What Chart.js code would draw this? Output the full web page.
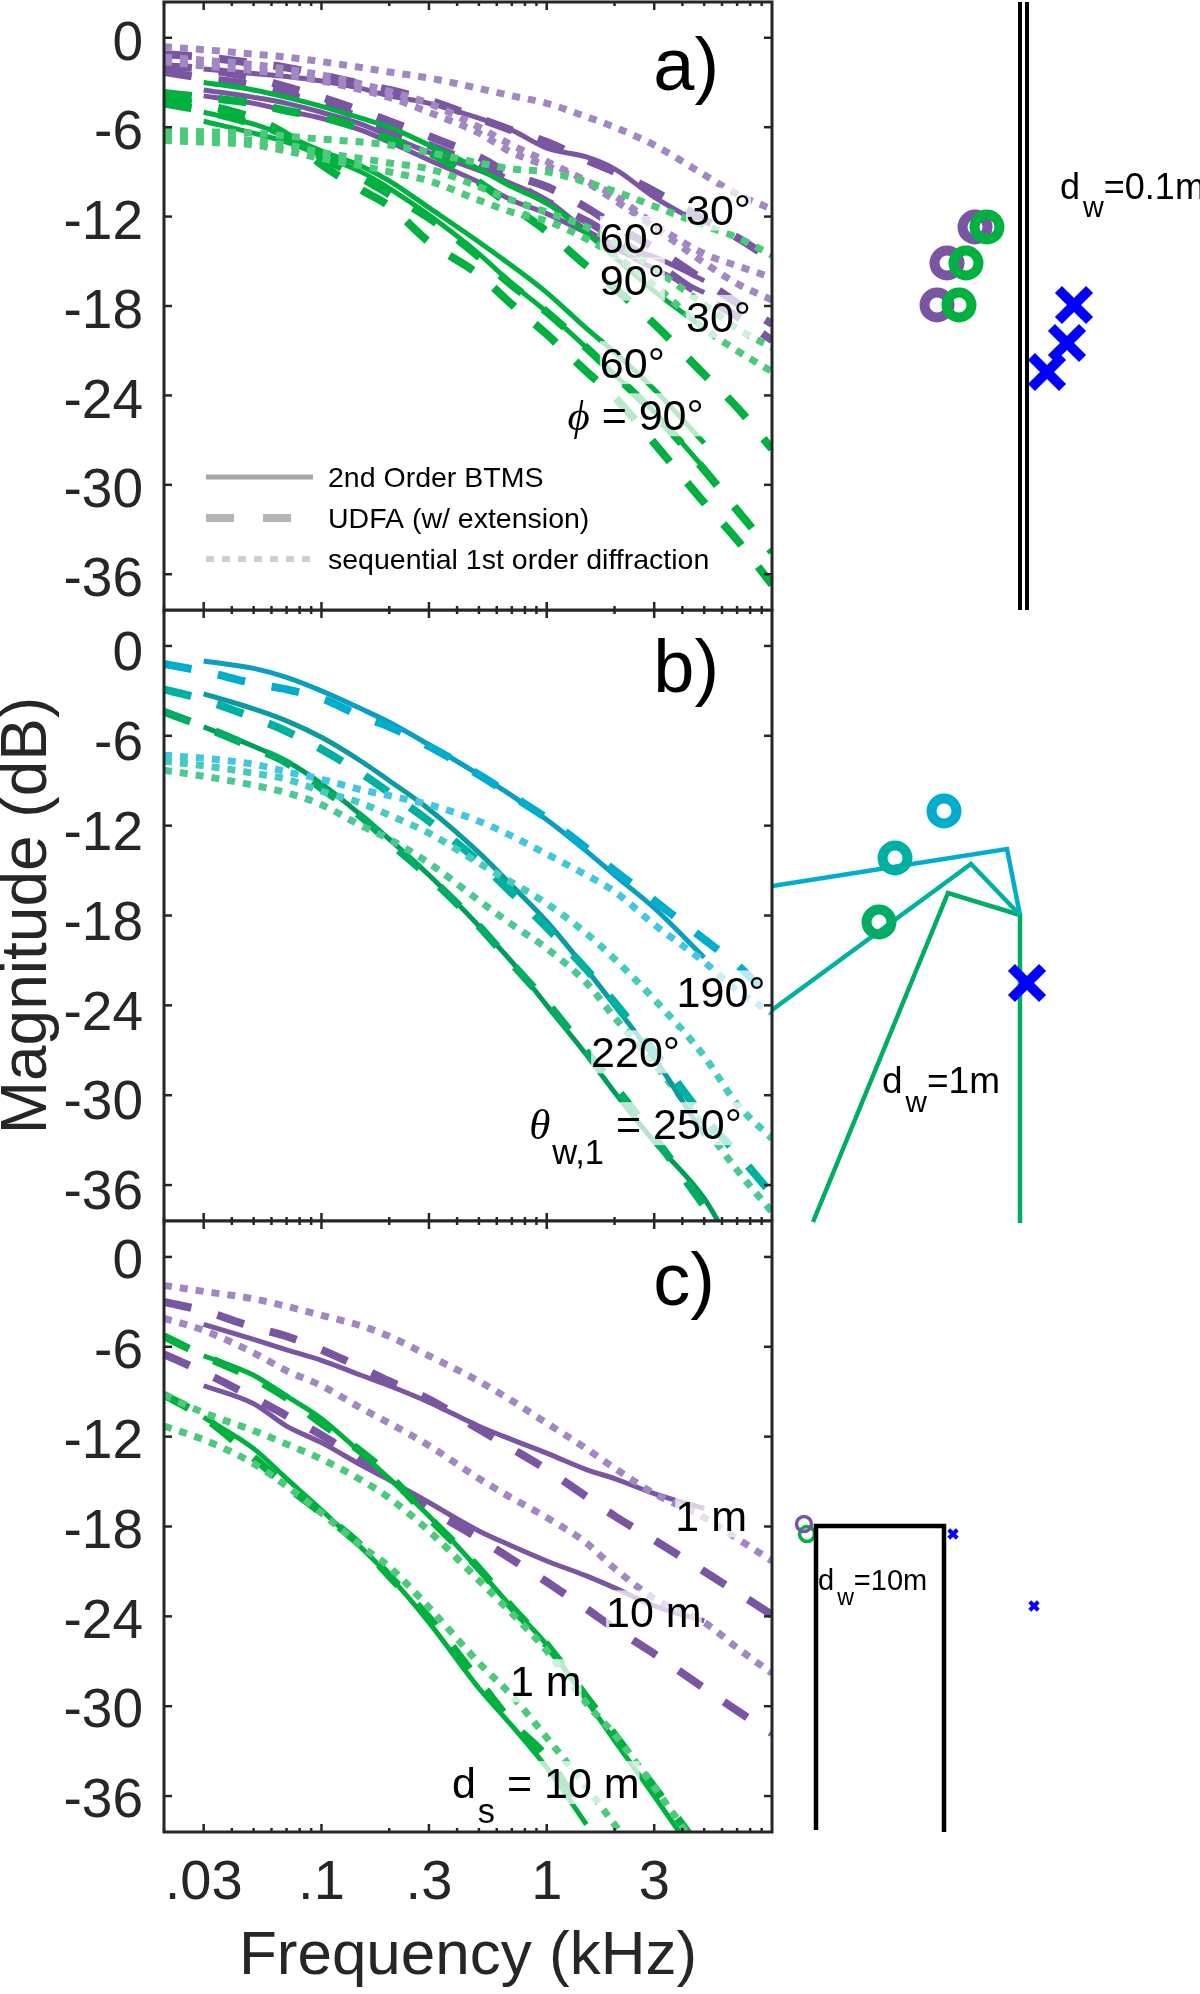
<!DOCTYPE html>
<html>
<head>
<meta charset="utf-8">
<title>Magnitude vs frequency</title>
<script src="https://cdn.jsdelivr.net/npm/chart.js@4"></script>
<style>
  html, body { margin: 0; padding: 0; background: #fff; }
  #wrap { position: relative; width: 1200px; height: 1994px; overflow: hidden; }
  canvas { position: absolute; }
</style>
</head>
<body>
<div id="wrap">
  <canvas id="sketch" width="428" height="1994" style="left:772px;top:0"></canvas>
  <canvas id="panelA" width="775" height="612" style="left:0;top:0"></canvas>
  <canvas id="panelB" width="775" height="612" style="left:0;top:609px"></canvas>
  <canvas id="panelC" width="775" height="775" style="left:0;top:1219px"></canvas>
</div>
<script>
// frequency grid (kHz) shared by all curves
const freqs = [.02, .03, .05, .07, .1, .15, .2, .3, .5, .7, 1, 1.5, 2, 3, 5, 7, 10];
const xMajor = [.03, .1, .3, 1, 3];
const xMinor = [.02, .04, .05, .06, .07, .08, .09, .2, .4, .5, .6, .7, .8, .9, 2, 4, 5, 6, 7, 8, 9];
const yTicks = [0, -6, -12, -18, -24, -30, -36];

// panel a
const aGreenDot30 = [-6.2,-6.3,-6.4,-6.6,-6.8,-7,-7.2,-7.7,-8.4,-8.8,-9,-9.7,-10.3,-11.3,-12.6,-13.4,-14.6];
const aGreenDot60 = [-6.6,-6.7,-6.9,-7.2,-7.7,-8.1,-8.4,-8.8,-10,-10.9,-11.7,-12.7,-13.7,-15.5,-17.9,-19.5,-20.8];
const aGreenDot90 = [-6.9,-7,-7.2,-7.6,-8.1,-8.6,-9,-9.6,-10.9,-11.7,-12.3,-13.5,-14.6,-16.6,-19.5,-21,-22.4];
const aGreenDash30 = [-3.7,-4,-4.4,-4.9,-5.3,-6.1,-6.8,-7.7,-9.7,-11.3,-13,-15.3,-16.8,-19.2,-22.6,-24.8,-27.6];
const aGreenDash60 = [-4.1,-4.5,-5.4,-6.5,-8,-9.4,-10.5,-12.1,-14.7,-16.6,-18.4,-20.8,-22.6,-25.2,-29,-31.7,-34.5];
const aGreenDash90 = [-4.4,-4.9,-5.8,-6.6,-8.5,-10.2,-11.3,-13.7,-15.9,-17.9,-19.9,-22.4,-24.1,-27.2,-31.2,-33.7,-36.7];
const aGreenLine30 = [-3,-3.5,-4,-4.6,-5.4,-6,-7.2,-8.8,-10,-11.1,-13.1,-14.7,-17,-19.5];
const aGreenLine60 = [-5,-5.8,-6.6,-7.6,-8.6,-9.6,-11.4,-13.7,-15.3,-17.1,-19.5,-21.1,-23.6,-27.2];
const aGreenLine90 = [-5.6,-6.4,-7,-7.9,-9,-10.1,-11.9,-14.5,-16.5,-18.4,-20.8,-22.6,-25.1,-28.9];
const aPurpleDot30 = [-.6,-.8,-1.1,-1.3,-1.6,-2,-2.3,-2.7,-3.4,-3.9,-4.4,-5.3,-6,-7.2,-9.2,-10.5,-11.5];
const aPurpleDot60 = [-1.3,-1.5,-1.8,-2.1,-2.5,-3.1,-3.6,-4.4,-6,-7.2,-8.3,-9.6,-10.6,-12.5,-14.5,-15.3,-16.1];
const aPurpleDot90 = [-1.6,-1.9,-2.2,-2.5,-2.9,-3.5,-4,-5,-6.4,-7.7,-8.6,-9.7,-10.9,-12.7,-15.1,-16.5,-17.6];
const aPurpleDash30 = [-1.1,-1.3,-1.7,-2,-2.5,-3.1,-3.5,-4.2,-5.4,-6.2,-7,-8.2,-9,-10.3,-12.2,-13.4,-14.9];
const aPurpleDash60 = [-1.9,-2.1,-2.7,-3.3,-4,-4.9,-5.6,-6.6,-8,-9.2,-10,-11.4,-12.6,-14.1,-16.3,-17.8,-19.2];
const aPurpleDash90 = [-2.3,-2.7,-3.2,-3.8,-4.4,-5.4,-6.2,-7.2,-8.6,-9.7,-11,-12.3,-13.4,-15.1,-17.4,-18.7,-20.3];
const aPurpleLine30 = [-2.1,-2.4,-2.6,-2.9,-3.4,-3.9,-4.4,-5.4,-6.2,-7.4,-8,-8.8,-10.7,-12.6];
const aPurpleLine60 = [-3.5,-4,-4.4,-5,-5.8,-6.6,-7.7,-8.9,-9.8,-10.9,-12.9,-13.9,-14.7,-16.3];
const aPurpleLine90 = [-3.9,-4.4,-4.9,-5.4,-6.2,-7,-8.2,-9.7,-10.9,-11.8,-13.1,-14.1,-15.5,-17.1];

// panel b
const bCyanDot = [-7.3,-7.5,-7.9,-8.4,-8.9,-9.6,-10,-10.6,-11.7,-12.7,-13.9,-15.3,-16.4,-18.6,-21.1,-23,-24.5];
const bCyanDash = [-1.2,-1.7,-2.5,-2.9,-3.5,-4.7,-5.4,-6.7,-8.6,-10,-11.5,-13.5,-15,-17,-19.6,-21.3,-23.6];
const bCyanLine = [-1,-1.5,-2.1,-3,-4.2,-5.1,-6.6,-8.6,-10,-11.6,-13.7,-15.3,-17.5,-20.8];
const bTealDot = [-7.7,-8,-8.5,-8.9,-9.7,-10.5,-11.3,-12.5,-14.5,-15.8,-17.2,-19.2,-20.9,-23.6,-27.4,-30.6,-32.9];
const bTealDash = [-2.9,-3.6,-4.8,-5.7,-6.9,-8.5,-9.8,-11.7,-14.4,-16.5,-18.8,-21.6,-23.8,-27.1,-31.5,-33.9,-36.6];
const bTealLine = [-3.2,-4.2,-5,-6.1,-7.7,-9,-10.9,-13.8,-16,-18.4,-21.6,-24,-27.5,-32.7];
const bGreenDot = [-8.3,-8.7,-9.3,-9.8,-10.6,-12,-12.9,-14.5,-17,-18.6,-20.2,-22.5,-24.8,-27.9,-32.1,-35,-37.8];
const bGreenDash = [-4.4,-5.4,-6.8,-7.8,-9.5,-11.4,-13.1,-15.4,-18.7,-21.2,-23.8,-27.1,-29.4,-32.8,-37.4];
const bGreenLine = [-5.4,-6.7,-7.7,-9.2,-11.3,-12.9,-15.3,-18.7,-21.1,-24,-27.3,-29.8,-33.1,-36.9,-40.7];

// panel c
const cGreenDot1 = [-9.2,-10.4,-11.6,-12.5,-13.5,-14.9,-16.1,-18.3,-21.6,-23.8,-26.3,-29.8,-31.9,-35.4,-40.1];
const cGreenDot10 = [-11.3,-12.2,-13.8,-15.3,-17.1,-19.3,-20.7,-23.4,-27.1,-29.3,-32.1,-35.4,-37.9,-41.4];
const cGreenDash1 = [-5.3,-6.6,-8.1,-9.4,-11.1,-13,-14.6,-17.4,-20.8,-23.4,-25.9,-29.4,-31.9,-35.4,-39.9];
const cGreenDash10 = [-9.2,-10.7,-13.4,-15.3,-17.1,-19.3,-21.3,-24.1,-28.3,-31.1,-33.4,-37.6];
const cGreenLine1 = [-6.6,-7.9,-9.3,-10.8,-13.1,-14.8,-17.3,-20.9,-23.4,-25.9,-29.6,-32.3,-36,-40.8];
const cGreenLine10 = [-10.7,-12.8,-14.8,-16.9,-19.4,-21.3,-24.4,-28.8,-31.3,-34.1,-37.9];
const cPurpleDot1 = [-1.9,-2.3,-2.8,-3.3,-3.9,-4.6,-5.3,-6.6,-8.3,-9.6,-11.1,-12.8,-14.1,-15.8,-17.4,-18.8,-20.3];
const cPurpleDot10 = [-4.1,-4.9,-6.4,-7.6,-8.6,-10.1,-11.1,-12.6,-14.8,-16.1,-17.4,-19.1,-20.8,-22.8,-24.4,-26.1,-27.8];
const cPurpleDash1 = [-3,-3.6,-4.7,-5.3,-6.2,-7.4,-8.3,-9.5,-11.5,-12.8,-14.2,-16,-17.3,-18.9,-21,-22.4,-23.9];
const cPurpleDash10 = [-6.5,-7.7,-9.4,-10.6,-11.9,-13.6,-14.9,-16.8,-18.8,-20.2,-21.7,-23.5,-24.8,-26.5,-28.8,-30.3,-31.8];
const cPurpleLine1 = [-4.5,-5.5,-6.2,-6.9,-7.9,-8.6,-9.7,-11.3,-12.2,-13.1,-14.2,-14.8,-15.8,-16.8];
const cPurpleLine10 = [-8.6,-9.8,-11.3,-12.4,-13.9,-14.9,-16.4,-18.3,-19.3,-20.3,-21.3,-22.1,-23.3,-24.3];

const wallA1 = [[1020,2],[1020,610]];
const wallA2 = [[1027,2],[1027,610]];
const recvGreenA = [[987,227],[966,263],[959,305]];
const recvPurpleA = [[975,227],[947,263],[937,305]];
const srcA = [[1074,305],[1067,343],[1047,372]];
const wedgeCyan = [[772,886],[1007,849],[1020,915]];
const wedgeTeal = [[772,1010],[971,864],[1020,915]];
const wedgeGreen = [[813,1222],[948,893],[1020,915],[1020,1223]];
const recvB = [[944,811],[895,858],[879,922]];
const srcB = [[1027,983]];
const wallC = [[816,1830],[816,1526],[944,1526],[944,1832]];
const recvPurpleC = [[804,1524]];
const recvGreenC = [[807,1534]];
const srcC = [[953,1534],[1034,1606]];

const PURPLE = '#7a56a2', GREEN = '#00b140', CYAN = '#00aecb', TEAL = '#00b0a0', GREEN2 = '#00ad62';
const PURPLE_L = '#a288c2', GREEN_L = '#4cc97a', CYAN_L = '#45c6e0', TEAL_L = '#45ccbe', GREEN2_L = '#4cc895';
const INK = '#262626';
const SANS = '"Liberation Sans", Arial, sans-serif';
const SERIF = '"Liberation Serif", serif';

function curve(vals, color, kind, start) {
  const styles = {
    line: { borderWidth: 5, borderDash: [] },
    dash: { borderWidth: 8, borderDash: [28, 27] },
    dot: { borderWidth: 7, borderDash: [8, 8] },
  };
  return {
    data: vals.map((y, i) => ({ x: freqs[i + start], y })),
    borderColor: color,
    borderWidth: styles[kind].borderWidth,
    borderDash: styles[kind].borderDash,
    showLine: true,
    pointRadius: 0,
    cubicInterpolationMode: 'monotone',
  };
}
const dot = (v, c) => curve(v, c, 'dot', 0);
const dash = (v, c) => curve(v, c, 'dash', 0);
const line = (v, c) => curve(v, c, 'line', 1);

// text with optional subscript runs, anchored on its centre
function drawRuns(ctx, runs, size, cx, cy, fade) {
  let total = 0;
  const parts = runs.map((r) => {
    const s = r.sub ? size * 0.8 : size;
    const font = (r.font || '') + ' ' + s + 'px ' + (r.family || SANS);
    ctx.font = font;
    const w = ctx.measureText(r.t).width + (r.gap || 0);
    total += w;
    return { ...r, font, w };
  });
  if (fade) {
    ctx.fillStyle = 'rgba(255,255,255,0.72)';
    ctx.fillRect(cx - total / 2, cy - size * 0.5, total, size);
  }
  ctx.fillStyle = '#000';
  ctx.textBaseline = 'alphabetic';
  ctx.textAlign = 'left';
  let x = cx - total / 2;
  parts.forEach((p) => {
    ctx.font = p.font;
    ctx.fillText(p.t, x + (p.gap || 0), cy + size * 0.36 + (p.sub ? size * 0.58 : 0));
    x += p.w;
  });
}

// ticks point inwards on all four sides, so they are drawn here instead of by the grid
const framePlugin = {
  id: 'frame',
  afterDatasetsDraw(chart) {
    const { ctx, chartArea: a, scales } = chart;
    ctx.save();
    ctx.strokeStyle = INK;
    ctx.lineWidth = 2.5;
    const seg = (x1, y1, x2, y2) => {
      ctx.beginPath();
      ctx.moveTo(x1, y1);
      ctx.lineTo(x2, y2);
      ctx.stroke();
    };
    xMajor.forEach((f) => {
      const x = scales.x.getPixelForValue(f);
      seg(x, a.top, x, a.top + 8);
      seg(x, a.bottom, x, a.bottom - 8);
    });
    xMinor.forEach((f) => {
      const x = scales.x.getPixelForValue(f);
      seg(x, a.top, x, a.top + 4);
      seg(x, a.bottom, x, a.bottom - 4);
    });
    yTicks.forEach((v) => {
      const y = scales.y.getPixelForValue(v);
      seg(a.left, y, a.left + 8, y);
      seg(a.right, y, a.right - 8, y);
    });
    ctx.lineWidth = 3;
    ctx.strokeRect(a.left, a.top, a.right - a.left, a.bottom - a.top);
    ctx.restore();
  },
};

function notesPlugin(notes, extra) {
  return {
    id: 'notes',
    afterDatasetsDraw(chart) {
      const { ctx, scales } = chart;
      ctx.save();
      notes.forEach((n) => {
        drawRuns(ctx, n.runs, n.size || 43, scales.x.getPixelForValue(n.f), scales.y.getPixelForValue(n.db), n.fade !== false);
      });
      if (extra) extra(ctx, scales);
      ctx.restore();
    },
  };
}

// labels must not push the plot area in, the panels are stacked edge to edge
const noPadding = (s) => {
  s.paddingTop = 0;
  s.paddingBottom = 0;
  s.paddingLeft = 0;
  s.paddingRight = 0;
};

function panel(id, datasets, notes, opts) {
  const o = opts || {};
  return new Chart(document.getElementById(id), {
    type: 'scatter',
    data: { datasets },
    plugins: [notesPlugin(notes, o.extra), framePlugin],
    options: {
      responsive: false,
      animation: false,
      layout: { autoPadding: false, padding: { top: o.top, right: 3, left: 0, bottom: 0 } },
      plugins: { legend: { display: false }, tooltip: { enabled: false } },
      scales: {
        x: {
          type: 'logarithmic',
          min: .02,
          max: 10,
          grid: { display: false, drawTicks: false },
          border: { display: false },
          title: o.xTitle
            ? { display: true, text: o.xTitle, font: { family: SANS, size: 62 }, color: INK, padding: { top: 0, bottom: 0 } }
            : { display: false },
          ticks: {
            display: !!o.xLabels,
            autoSkip: false,
            maxRotation: 0,
            padding: 18,
            color: INK,
            font: { family: SANS, size: 56 },
            callback: (v) => (xMajor.includes(v) ? String(v).replace(/^0/, '') : ''),
          },
          afterBuildTicks: (s) => { s.ticks = xMajor.map((v) => ({ value: v })); },
          afterFit: (s) => { s.height = o.xHeight; noPadding(s); },
        },
        y: {
          min: -38.4,
          max: 2.4,
          grid: { display: false, drawTicks: false },
          border: { display: false },
          title: o.yTitle
            ? { display: true, text: o.yTitle, font: { family: SANS, size: 64, lineHeight: 0.9 }, color: INK, padding: { top: 0, bottom: 0 } }
            : { display: false },
          ticks: { padding: 21, labelOffset: o.labelShift, color: INK, font: { family: SANS, size: 55 }, callback: (v) => String(v) },
          afterBuildTicks: (s) => { s.ticks = yTicks.map((v) => ({ value: v })); },
          afterFit: (s) => { s.width = 164; noPadding(s); },
        },
      },
    },
  });
}

const deg = (t, f, db) => ({ runs: [{ t }], f, db });
const corner = (t, f, db) => ({ runs: [{ t }], f, db, size: 74, fade: false });

const legendRows = [
  { label: '2nd Order BTMS', dash: [], width: 5, color: '#a6a6a6' },
  { label: 'UDFA (w/ extension)', dash: [28, 29], width: 8, color: '#b5b5b5' },
  { label: 'sequential 1st order diffraction', dash: [8, 8], width: 6, color: '#cfcfcf' },
];

function drawLegend(ctx) {
  legendRows.forEach((r, i) => {
    const y = 477 + i * 41;
    ctx.strokeStyle = r.color;
    ctx.lineWidth = r.width;
    ctx.setLineDash(r.dash);
    ctx.beginPath();
    ctx.moveTo(206, y);
    ctx.lineTo(313, y);
    ctx.stroke();
    ctx.setLineDash([]);
    ctx.fillStyle = '#000';
    ctx.font = '28.5px ' + SANS;
    ctx.textAlign = 'left';
    ctx.textBaseline = 'middle';
    ctx.fillText(r.label, 328, y + 2);
  });
}

panel('panelA', [
  dot(aGreenDot30, GREEN_L), dot(aGreenDot60, GREEN_L), dot(aGreenDot90, GREEN_L),
  dash(aGreenDash30, GREEN), dash(aGreenDash60, GREEN), dash(aGreenDash90, GREEN),
  line(aGreenLine30, GREEN), line(aGreenLine60, GREEN), line(aGreenLine90, GREEN),
  dot(aPurpleDot30, PURPLE_L), dot(aPurpleDot60, PURPLE_L), dot(aPurpleDot90, PURPLE_L),
  dash(aPurpleDash30, PURPLE), dash(aPurpleDash60, PURPLE), dash(aPurpleDash90, PURPLE),
  line(aPurpleLine30, PURPLE), line(aPurpleLine60, PURPLE), line(aPurpleLine90, PURPLE),
], [
  deg('30°', 5.79, -11.5), deg('60°', 2.4, -13.4), deg('90°', 2.4, -16.2),
  deg('30°', 5.79, -18.7), deg('60°', 2.4, -21.8),
  { runs: [{ t: 'ϕ', font: 'italic', family: SERIF }, { t: ' = 90°' }], f: 2.48, db: -25.3 },
  corner('a)', 4.16, -1.7),
], { top: 2, xHeight: 2, labelShift: 7, extra: drawLegend });

panel('panelB', [
  dot(bCyanDot, CYAN_L), dash(bCyanDash, CYAN), line(bCyanLine, '#0a9fc0'),
  dot(bTealDot, TEAL_L), dash(bTealDash, TEAL), line(bTealLine, '#0a9aa0'),
  dot(bGreenDot, GREEN2_L), dash(bGreenDash, GREEN2), line(bGreenLine, '#009c5a'),
], [
  deg('190°', 5.94, -23.1), deg('220°', 2.48, -27.1),
  { runs: [{ t: 'θ', font: 'italic', family: SERIF }, { t: 'w,1', sub: true, gap: 2 }, { t: ' = 250°' }], f: 2.48, db: -31.9 },
  corner('b)', 4.16, -1.3),
], { top: 1, xHeight: 0, labelShift: 9, yTitle: 'Magnitude (dB)' });

panel('panelC', [
  dot(cGreenDot1, GREEN_L), dot(cGreenDot10, GREEN_L),
  dash(cGreenDash1, GREEN), dash(cGreenDash10, GREEN),
  line(cGreenLine1, GREEN), line(cGreenLine10, GREEN),
  dot(cPurpleDot1, PURPLE_L), dot(cPurpleDot10, PURPLE_L),
  dash(cPurpleDash1, PURPLE), dash(cPurpleDash10, PURPLE),
  line(cPurpleLine1, PURPLE), line(cPurpleLine10, PURPLE),
], [
  deg('1 m', 5.37, -17.3), deg('10 m', 2.99, -23.7), deg('1 m', .99, -28.3),
  { runs: [{ t: 'd' }, { t: 's', sub: true, gap: 2 }, { t: ' = 10 m' }], f: .99, db: -35.1 },
  corner('c)', 4.07, -1.4),
], { top: 2, xHeight: 162, labelShift: 6, xLabels: true, xTitle: 'Frequency (kHz)' });

// schematics on the right, all in one chart
const pts = (list) => list.map(([x, y]) => ({ x, y }));
const path = (list, color, w) => ({
  data: pts(list), showLine: true, borderColor: color, borderWidth: w, pointRadius: 0, borderJoinStyle: 'miter',
});
const marks = (list, color, style, r, w) => ({
  data: pts(list), showLine: false, pointStyle: style, pointRadius: r, pointBorderColor: color,
  pointBackgroundColor: 'transparent', pointBorderWidth: w,
});

const sub = (d, rest, x, y, size) => ({ d, rest, x, y, size });
const sketchNotes = [
  sub('d', '=0.1m', 1060, 186, 36),
  sub('d', '=1m', 882, 1080, 37),
  sub('d', '=10m', 818, 1580, 29),
];

new Chart(document.getElementById('sketch'), {
  type: 'scatter',
  data: {
    datasets: [
      path(wallA1, '#000', 4), path(wallA2, '#000', 4),
      marks(recvGreenA, GREEN, 'circle', 12.5, 10), marks(recvPurpleA, PURPLE, 'circle', 12.5, 10),
      marks(srcA, '#0000ff', 'crossRot', 22, 10),
      marks(recvB.slice(0, 1), CYAN, 'circle', 12.5, 10),
      marks(recvB.slice(1, 2), TEAL, 'circle', 12.5, 10),
      marks(recvB.slice(2), GREEN2, 'circle', 12.5, 10),
      marks(srcB, '#0000ff', 'crossRot', 22, 10),
      path(wedgeCyan, CYAN, 4.5), path(wedgeTeal, TEAL, 4.5), path(wedgeGreen, GREEN2, 4.5),
      path(wallC, '#000', 4.5),
      marks(recvPurpleC, PURPLE, 'circle', 7.5, 3.5), marks(recvGreenC, GREEN, 'circle', 7.5, 3.5),
      marks(srcC, '#0000ff', 'crossRot', 6, 4),
    ],
  },
  plugins: [{
    id: 'sketchNotes',
    afterDatasetsDraw(chart) {
      const { ctx, scales } = chart;
      ctx.save();
      sketchNotes.forEach((n) => {
        ctx.font = n.size + 'px ' + SANS;
        const dw = ctx.measureText(n.d).width;
        const x0 = scales.x.getPixelForValue(n.x);
        const y0 = scales.y.getPixelForValue(n.y) + n.size * 0.36;
        ctx.fillStyle = '#000';
        ctx.textAlign = 'left';
        ctx.textBaseline = 'alphabetic';
        ctx.fillText(n.d, x0, y0);
        ctx.font = n.size * 0.8 + 'px ' + SANS;
        const ww = ctx.measureText('w').width;
        ctx.fillText('w', x0 + dw + 3, y0 + n.size * 0.5);
        ctx.font = n.size + 'px ' + SANS;
        ctx.fillText(n.rest, x0 + dw + ww + 3, y0);
      });
      ctx.restore();
    },
  }],
  options: {
    responsive: false,
    animation: false,
    layout: { autoPadding: false, padding: 0 },
    plugins: { legend: { display: false }, tooltip: { enabled: false } },
    scales: {
      x: { display: false, min: 772, max: 1200 },
      y: { display: false, min: 0, max: 1994, reverse: true },
    },
  },
});
</script>
</body>
</html>
